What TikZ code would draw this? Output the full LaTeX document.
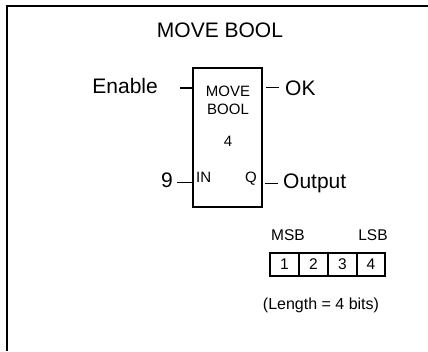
\documentclass[tikz,border=0pt]{standalone}
\usepackage{fontspec}
\setmainfont{Liberation Sans}
\usetikzlibrary{positioning}
\tikzset{
  big/.style={font=\fontsize{21}{25}\selectfont, inner sep=0pt},
  small/.style={font=\fontsize{15}{18}\selectfont, inner sep=0pt},
  blk/.style={draw, line width=1.2pt, minimum width=69pt, minimum height=139pt, inner sep=0pt, outer sep=0pt},
  cell/.style={draw, line width=1.1pt, minimum width=29pt, minimum height=23pt, inner sep=0pt, outer sep=0pt,
               font=\fontsize{15.5}{18}\selectfont},
  pin/.style={line width=1.2pt}
}
\begin{document}
\begin{tikzpicture}[x=1pt, y=1pt]
\useasboundingbox (0,0) rectangle (428,351);
% frame
\draw[line width=1.5pt] (7,0) -- (7,345) -- (428,345);
\node[big] (title) at (220,321) {MOVE BOOL};
% function block
\node[blk] (mb) at (227.5,213.5) {};
\node[small] (mv) at (228,260) {MOVE};
\node[small] (bo) at (228,242) {BOOL};
\node[small] (len) at (228,210) {4};
\node[small, anchor=base west] (in) at (196,168) {IN};
\node[small, anchor=base east] (q) at (257,168) {Q};
% pins
\coordinate (enp) at (180,263);
\coordinate (inp) at (177,168.5);
\coordinate (okp) at (266,263.5);
\coordinate (qp) at (265,167.5);
\draw[pin] (enp) -- (enp -| mb.west);
\draw[pin] (inp) -- (inp -| mb.west);
\draw[pin] (okp) -- ++(13,0) coordinate (oke);
\draw[pin] (qp) -- ++(13,0) coordinate (qe);
\node[big, anchor=base east] (en) at (158,257) {Enable};
\node[big, anchor=base east] (nine) at (173,164) {9};
\node[big, anchor=base west] (ok) at (285,255) {OK};
\node[big, anchor=base west] (out) at (283,162) {Output};
% bit layout
\node[cell, anchor=north west] (c1) at (270,98) {1};
\node[cell, right=0pt of c1] (c2) {2};
\node[cell, right=0pt of c2] (c3) {3};
\node[cell, right=0pt of c3, minimum width=28pt] (c4) {4};
\draw[line width=1.6pt] (c1.north west) rectangle (c4.south east);
\node[small, font=\fontsize{15.5}{18}\selectfont] (msb) at (288,116) {MSB};
\node[small, font=\fontsize{15.5}{18}\selectfont] (lsb) at (373,116) {LSB};
\node[small, font=\fontsize{16}{19}\selectfont] (bits) at (321,46) {(Length = 4 bits)};
\end{tikzpicture}
\end{document}
